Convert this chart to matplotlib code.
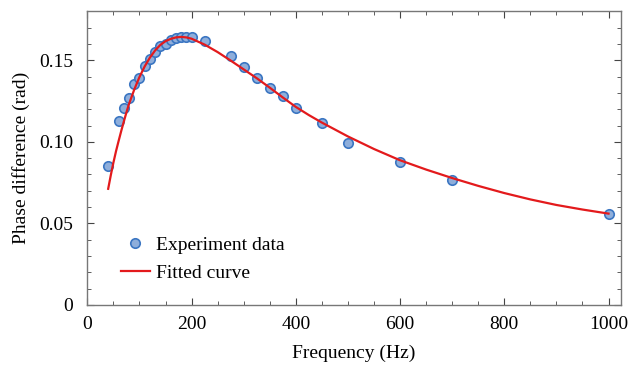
import matplotlib.pyplot as plt
from matplotlib.ticker import MultipleLocator, FixedFormatter, FixedLocator

# experiment points
freq = [40, 60, 70, 80, 90, 100, 110, 120, 130, 140, 150, 160, 170, 180, 190, 200,
        225, 275, 300, 325, 350, 375, 400, 450, 500, 600, 700, 1000]
phase = [0.085, 0.113, 0.121, 0.127, 0.1355, 0.139, 0.1465, 0.151, 0.155, 0.1588,
         0.160, 0.1627, 0.1638, 0.1643, 0.1643, 0.1643, 0.1615, 0.1523, 0.1457,
         0.1394, 0.133, 0.1278, 0.121, 0.1118, 0.0993, 0.0875, 0.0763, 0.0557]

# fitted curve
fit_freq = [40, 45, 50, 55, 60, 65, 70, 75, 80, 90, 100, 110, 120, 130, 140, 150, 160,
            170, 180, 190, 200, 225, 250, 275, 300, 325, 350, 375, 400, 425, 450, 500,
            550, 600, 650, 700, 750, 800, 850, 900, 950, 1000]
fit_phase = [0.0712, 0.0795, 0.0872, 0.0942, 0.1005, 0.1066, 0.1124, 0.1180, 0.1232,
             0.1320, 0.1397, 0.1462, 0.1516, 0.1560, 0.1594, 0.1617, 0.1631, 0.1640,
             0.1643, 0.1640, 0.1632, 0.1596, 0.1550, 0.1498, 0.1444, 0.1390, 0.1332,
             0.1272, 0.1214, 0.1164, 0.1118, 0.1033, 0.0956, 0.0887, 0.0830, 0.0778,
             0.0730, 0.0686, 0.0647, 0.0613, 0.0585, 0.0560]

plt.rcParams['font.family'] = ['Liberation Serif', 'DejaVu Serif']
plt.rcParams['mathtext.fontset'] = 'stix'

fig = plt.figure(figsize=(6.31, 3.67), dpi=100)
ax = fig.add_axes([0.1384, 0.169, 0.8458, 0.8002])

ax.plot(freq, phase, 'o', ms=6.8, mfc='#8eaedb', mec='#3b76c2', mew=1.2,
        label='Experiment data', zorder=2)
ax.plot(fit_freq, fit_phase, '-', color='#e31a1c', lw=1.6, label='Fitted curve', zorder=3)

ax.set_xlim(0, 1024)
ax.set_ylim(0, 0.18)
ax.xaxis.set_major_locator(MultipleLocator(200))
ax.xaxis.set_minor_locator(MultipleLocator(50))
ax.yaxis.set_major_locator(FixedLocator([0, 0.05, 0.10, 0.15]))
ax.yaxis.set_major_formatter(FixedFormatter(['0', '0.05', '0.10', '0.15']))
ax.yaxis.set_minor_locator(MultipleLocator(0.01))

ax.tick_params(which='both', direction='in', top=True, right=True, labelsize=14,
               color='#444444')
ax.tick_params(axis='y', which='major', pad=10)
ax.tick_params(axis='x', which='major', pad=8)
ax.tick_params(which='major', length=5, width=0.8)
ax.tick_params(which='minor', length=3, width=0.6)
for s in ax.spines.values():
    s.set_color('#777777')
    s.set_linewidth(1.0)

ax.set_xlabel('Frequency (Hz)', fontsize=14, labelpad=8)
ax.set_ylabel('Phase difference (rad)', fontsize=14, labelpad=7)

ax.legend(loc='lower left', bbox_to_anchor=(0.03, 0.02), frameon=False, fontsize=14,
          handlelength=1.5, handletextpad=0.3, labelspacing=0.5)

fig.savefig('out.png', dpi=100)
